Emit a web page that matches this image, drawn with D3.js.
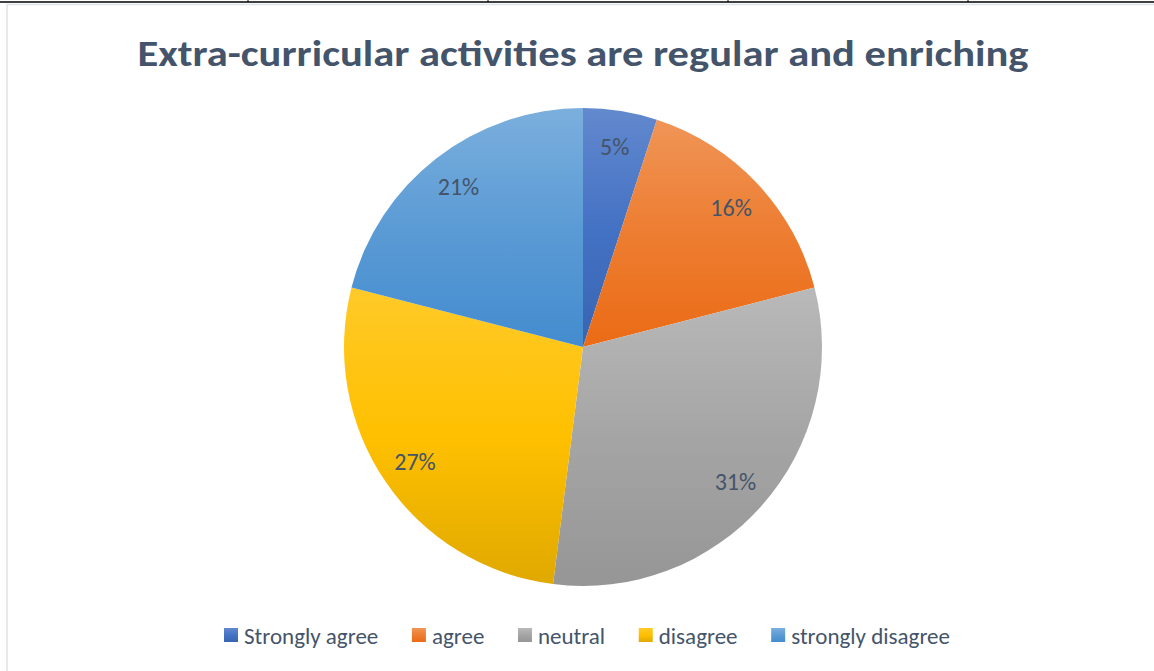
<!DOCTYPE html>
<html><head><meta charset="utf-8">
<script src="https://cdn.jsdelivr.net/npm/d3@7"></script>
<style>html,body{margin:0;padding:0;background:#fff;}svg{display:block;}</style>
</head><body>
<svg id="c" width="1154" height="671"></svg>
<script>
const title = "Extra-curricular activities are regular and enriching";
const categories = ["Strongly agree", "agree", "neutral", "disagree", "strongly disagree"];
const values = [5, 16, 31, 27, 21];
const colors = ["#4472C4", "#ED7D31", "#A5A5A5", "#FFC000", "#5B9BD5"];

const svg = d3.select("#c");
const W = 1154, H = 671;
const font = "Carlito, Calibri, Lato, 'Open Sans', sans-serif";

// page table lines at the top
svg.append("line").attr("x1", 0).attr("x2", W).attr("y1", 2).attr("y2", 2).attr("stroke", "#000").attr("stroke-width", 1.3);
[248, 488, 728, 968].forEach(x => svg.append("line").attr("x1", x).attr("x2", x).attr("y1", 0).attr("y2", 2).attr("stroke", "#000"));
// chart frame
svg.append("rect").attr("x", 7).attr("y", 4.5).attr("width", W + 10).attr("height", H + 10)
  .attr("fill", "#fff").attr("stroke", "#dfe3e8").attr("stroke-width", 1.5);

// title
svg.append("text").attr("x", 583).attr("y", 66).attr("text-anchor", "middle")
  .attr("font-family", font).attr("font-weight", "bold").attr("font-size", 36)
  .attr("fill", "#44546A").text(title)
  .each(function(){ const w = this.getComputedTextLength(); if (Math.abs(w-891) > 10) d3.select(this).attr("textLength", 891).attr("lengthAdjust", "spacingAndGlyphs"); });

const cx = 583, cy = 347, R = 239;
const defs = svg.append("defs");
function shift(c, dl) { const h = d3.hsl(c); h.l = Math.max(0, Math.min(1, h.l + dl)); return h.formatHex(); }
function addGrad(id, c) {
  const g = defs.append("linearGradient").attr("id", id).attr("x1", 0).attr("x2", 0).attr("y1", 0).attr("y2", 1);
  g.append("stop").attr("offset", "0%").attr("stop-color", shift(c, 0.08));
  g.append("stop").attr("offset", "50%").attr("stop-color", c);
  g.append("stop").attr("offset", "100%").attr("stop-color", shift(c, -0.06));
}
colors.forEach((c, i) => addGrad("g" + i, c));

const pie = d3.pie().sort(null).value(d => d);
const arcs = pie(values);
const arc = d3.arc().innerRadius(0).outerRadius(R);
const labelArc = d3.arc().innerRadius(R * 0.85).outerRadius(R * 0.85);
const g = svg.append("g").attr("transform", `translate(${cx},${cy})`);
g.selectAll("path").data(arcs).join("path")
  .attr("d", arc).attr("fill", (d, i) => `url(#g${i})`);
const total = d3.sum(values);
g.selectAll("text").data(arcs).join("text")
  .attr("transform", d => `translate(${labelArc.centroid(d)})`)
  .attr("text-anchor", "middle").attr("dy", "0.35em")
  .attr("font-family", font).attr("font-size", 24).attr("fill", "#44546A")
  .text(d => Math.round(d.data / total * 100) + "%");

// legend
const lg = svg.append("g");
const items = lg.selectAll("g").data(categories).join("g");
items.append("rect").attr("width", 14).attr("height", 14).attr("y", -8)
  .attr("fill", (d, i) => `url(#g${i})`);
items.append("text").attr("x", 20).attr("dy", "0.35em")
  .attr("font-family", font).attr("font-size", 23).attr("fill", "#44546A").text(d => d);
const widths = [];
items.each(function(){ widths.push(this.getBBox().width); });
const legendW = 726;
const gap = (legendW - d3.sum(widths)) / (widths.length - 1);
let x = 0;
items.each(function(d, i){ d3.select(this).attr("transform", `translate(${x},0)`); x += widths[i] + gap; });
lg.attr("transform", `translate(224,636)`);
</script>
</body></html>
